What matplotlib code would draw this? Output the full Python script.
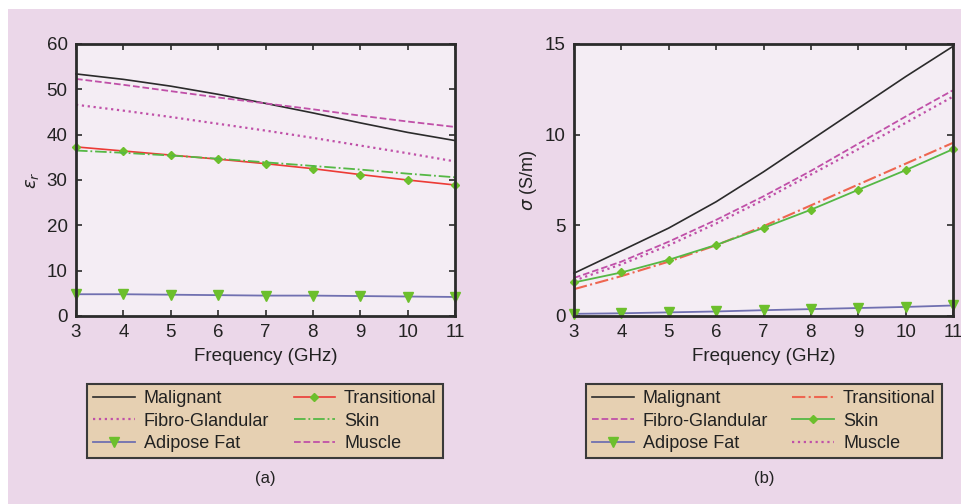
import numpy as np
import matplotlib
matplotlib.use('Agg')
import matplotlib.pyplot as plt
from matplotlib.patches import Rectangle

plt.rcParams['font.family'] = ['Liberation Sans', 'DejaVu Sans']

freq = [3, 4, 5, 6, 7, 8, 9, 10, 11]

# relative permittivity
eps_malignant = [53.4, 52.2, 50.7, 48.9, 46.9, 44.8, 42.6, 40.5, 38.7]
eps_fibro = [46.6, 45.3, 43.9, 42.4, 40.9, 39.3, 37.6, 35.9, 34.1]
eps_adipose = [4.8, 4.8, 4.7, 4.6, 4.5, 4.5, 4.4, 4.3, 4.2]
eps_transitional = [37.3, 36.4, 35.5, 34.6, 33.6, 32.5, 31.2, 30.0, 28.9]
eps_skin = [36.5, 36.0, 35.4, 34.7, 33.9, 33.1, 32.3, 31.4, 30.6]
eps_muscle = [52.3, 51.0, 49.6, 48.2, 46.9, 45.6, 44.2, 42.9, 41.7]

# conductivity (S/m)
sig_malignant = [2.36, 3.6, 4.85, 6.3, 7.95, 9.7, 11.45, 13.2, 14.87]
sig_fibro = [2.1, 3.0, 4.1, 5.3, 6.6, 8.0, 9.5, 11.0, 12.45]
sig_adipose = [0.12, 0.15, 0.2, 0.25, 0.32, 0.38, 0.44, 0.5, 0.58]
sig_transitional = [1.48, 2.2, 3.0, 3.9, 4.95, 6.1, 7.25, 8.4, 9.55]
sig_skin = [1.85, 2.4, 3.1, 3.92, 4.86, 5.86, 6.96, 8.04, 9.2]
sig_muscle = [1.95, 2.85, 3.9, 5.1, 6.4, 7.8, 9.2, 10.65, 12.1]

bg_outer = '#ebd7e9'
bg_axes = '#f4edf4'
c_text = '#222222'
c_black = '#2b2b2b'
c_magenta = '#c050a8'
c_red = '#ec3b36'
c_red2 = '#ee6650'
c_green = '#55b845'
c_purple = '#7070b0'
c_mark = '#6cbf2c'

fig = plt.figure(figsize=(9.61, 5.04), dpi=100, facecolor='white')
fig.patches.append(Rectangle((8 / 961, 0), 1, 1 - 9 / 504, transform=fig.transFigure,
                             facecolor=bg_outer, edgecolor='none', zorder=-10))

ax1 = fig.add_axes([76 / 961, 1 - 316 / 504, 379 / 961, 272 / 504])
ax2 = fig.add_axes([574 / 961, 1 - 316 / 504, 379 / 961, 272 / 504])

# (a) permittivity
ax1.plot(freq, eps_malignant, '-', color=c_black, lw=1.2, label='Malignant')
ax1.plot(freq, eps_fibro, ':', color=c_magenta, lw=1.6, label='Fibro-Glandular')
ax1.plot(freq, eps_adipose, '-', color=c_purple, lw=1.3, marker='v', ms=7,
         mfc=c_mark, mec=c_mark, label='Adipose Fat')
ax1.plot(freq, eps_transitional, '-', color=c_red, lw=1.2, marker='D', ms=4,
         mfc=c_mark, mec=c_mark, label='Transitional')
ax1.plot(freq, eps_skin, '-.', color=c_green, lw=1.3, label='Skin')
ax1.plot(freq, eps_muscle, '--', color=c_magenta, lw=1.3, label='Muscle')
ax1.set_ylim(0, 60)
ax1.set_ylabel(r'$\varepsilon_r$', fontsize=13, color=c_text)

# (b) conductivity
ax2.plot(freq, sig_malignant, '-', color=c_black, lw=1.2, label='Malignant')
ax2.plot(freq, sig_fibro, '--', color=c_magenta, lw=1.3, label='Fibro-Glandular')
ax2.plot(freq, sig_adipose, '-', color=c_purple, lw=1.3, marker='v', ms=7,
         mfc=c_mark, mec=c_mark, label='Adipose Fat')
ax2.plot(freq, sig_transitional, '-.', color=c_red2, lw=1.5, label='Transitional')
ax2.plot(freq, sig_skin, '-', color=c_green, lw=1.3, marker='D', ms=4,
         mfc=c_mark, mec=c_mark, label='Skin')
ax2.plot(freq, sig_muscle, ':', color=c_magenta, lw=1.6, label='Muscle')
ax2.set_ylim(0, 15)
ax2.set_yticks([0, 5, 10, 15])
ax2.set_ylabel(r'$\sigma$ (S/m)', fontsize=13, color=c_text)

for ax in (ax1, ax2):
    ax.set_facecolor(bg_axes)
    ax.set_xlim(3, 11)
    ax.set_xticks(freq)
    ax.set_xlabel('Frequency (GHz)', fontsize=13.5, labelpad=5, color=c_text)
    ax.tick_params(direction='in', top=True, right=True, length=4, width=1.2,
                   labelsize=13.5, colors=c_black, labelcolor=c_text, pad=6)
    for sp in ax.spines.values():
        sp.set_linewidth(2)
        sp.set_color(c_black)
    for m in ax.lines:
        m.set_clip_on(False)

legend_boxes = [(87, 'a', ax1), (586, 'b', ax2)]
for x0, tag, ax in legend_boxes:
    leg = ax.legend(loc='center', ncol=2, fontsize=13, frameon=True, fancybox=False,
                    bbox_to_anchor=(x0 / 961, 1 - 461 / 504, 356 / 961, 80 / 504),
                    bbox_transform=fig.transFigure, mode='expand',
                    handlelength=2.3, handletextpad=0.5, columnspacing=0.8,
                    labelspacing=0.3, borderaxespad=0, borderpad=0.35)
    for t in leg.get_texts():
        t.set_color(c_text)
    fr = leg.get_frame()
    fr.set_facecolor('#e6d0b2')
    fr.set_edgecolor('#3a3a3a')
    fr.set_linewidth(1.5)
    fr.set_alpha(1)
    fig.text((x0 + 178) / 961, 1 - 478 / 504, f'({tag})', ha='center', va='center',
             fontsize=12, color=c_text)

fig.savefig('out.png', dpi=100, facecolor=fig.get_facecolor())
